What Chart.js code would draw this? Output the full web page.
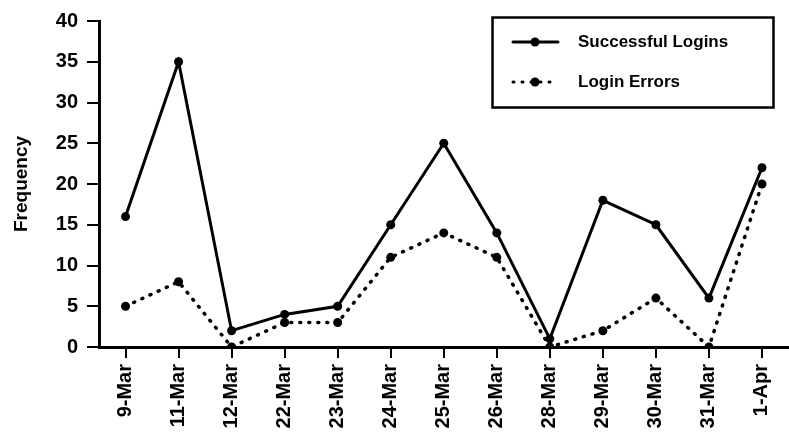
<!DOCTYPE html>
<html lang="en">
<head>
  <meta charset="UTF-8">
  <title>Logins</title>
  <script src="https://cdn.jsdelivr.net/npm/chart.js"></script>
  <style>
    html, body { margin: 0; padding: 0; background: #fff; overflow: hidden; }
    #wrap { width: 793px; height: 439px; }
  </style>
</head>
<body>
  <div id="wrap"><canvas id="loginChart" width="793" height="439"></canvas></div>

  <script>
    // data
    const dates = ['9-Mar', '11-Mar', '12-Mar', '22-Mar', '23-Mar', '24-Mar', '25-Mar',
                   '26-Mar', '28-Mar', '29-Mar', '30-Mar', '31-Mar', '1-Apr'];
    const successfulLogins = [16, 35, 2, 4, 5, 15, 25, 14, 1, 18, 15, 6, 22];
    const loginErrors = [5, 8, 0, 3, 3, 11, 14, 11, 0, 2, 6, 0, 20];
    const yTicks = [0, 5, 10, 15, 20, 25, 30, 35, 40];

    const FONT = '"Liberation Sans", Arial, sans-serif';
    const DOTS = [1, 8];

    // boxed legend drawn inside the plot, top right
    const boxLegend = {
      id: 'boxLegend',
      afterDraw(chart) {
        const ctx = chart.ctx;
        ctx.save();
        ctx.strokeStyle = '#000';
        ctx.lineWidth = 2.5;
        ctx.strokeRect(492.5, 17.5, 281, 90);

        const rows = [
          { y: 42, text: 'Successful Logins', dash: [] },
          { y: 82, text: 'Login Errors', dash: DOTS }
        ];
        rows.forEach(r => {
          ctx.lineWidth = 3;
          ctx.lineCap = 'round';
          ctx.setLineDash(r.dash);
          ctx.beginPath();
          ctx.moveTo(513, r.y);
          ctx.lineTo(558, r.y);
          ctx.stroke();
          ctx.setLineDash([]);
          ctx.fillStyle = '#000';
          ctx.beginPath();
          ctx.arc(535, r.y, 4.5, 0, Math.PI * 2);
          ctx.fill();
          ctx.font = 'bold 17px ' + FONT;
          ctx.textBaseline = 'middle';
          ctx.textAlign = 'left';
          ctx.fillText(r.text, 578, r.y);
        });
        ctx.restore();
      }
    };

    new Chart(document.getElementById('loginChart'), {
      type: 'line',
      data: {
        labels: dates,
        datasets: [
          {
            label: 'Successful Logins',
            data: successfulLogins,
            borderColor: '#000',
            backgroundColor: '#000',
            borderWidth: 3,
            pointRadius: 4.5,
            pointBorderWidth: 0,
            tension: 0
          },
          {
            label: 'Login Errors',
            data: loginErrors,
            borderColor: '#000',
            backgroundColor: '#000',
            borderWidth: 3.5,
            borderDash: DOTS,
            borderCapStyle: 'round',
            pointRadius: 4.5,
            pointBorderWidth: 0,
            tension: 0
          }
        ]
      },
      options: {
        responsive: false,
        animation: false,
        layout: { padding: { top: 17, right: 0, bottom: 0, left: 0 } },
        plugins: {
          legend: { display: false },
          tooltip: { enabled: false }
        },
        scales: {
          x: {
            offset: true,
            afterFit: s => { s.height = 92; },
            border: { display: true, color: '#000', width: 3 },
            grid: { drawOnChartArea: false, drawTicks: true, tickLength: 11, color: '#000', lineWidth: 2 },
            ticks: {
              color: '#000',
              font: { family: FONT, size: 20, weight: 'bold' },
              maxRotation: 90,
              minRotation: 90,
              padding: 6,
              autoSkip: false
            }
          },
          y: {
            min: 0,
            max: 40,
            afterFit: s => { s.width = 99; },
            afterBuildTicks: s => { s.ticks = yTicks.map(v => ({ value: v })); },
            border: { display: true, color: '#000', width: 3 },
            grid: { drawOnChartArea: false, drawTicks: true, tickLength: 12, color: '#000', lineWidth: 2 },
            ticks: {
              color: '#000',
              font: { family: FONT, size: 20, weight: 'bold' },
              padding: 9
            },
            title: {
              display: true,
              text: 'Frequency',
              color: '#000',
              font: { family: FONT, size: 19, weight: 'bold' },
              padding: { top: 10, bottom: 0 }
            }
          }
        }
      },
      plugins: [boxLegend]
    });
  </script>
</body>
</html>
